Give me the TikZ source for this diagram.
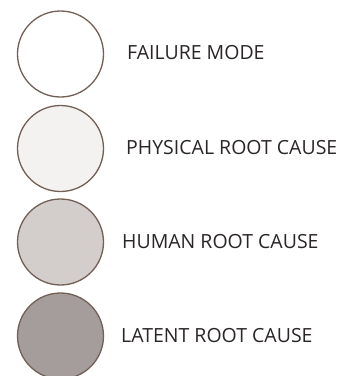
\documentclass[tikz,border=0pt]{standalone}
\usepackage{fontspec}
\setmainfont{Open Sans}
\definecolor{edge}{HTML}{735F55}
\definecolor{txt}{HTML}{2A2626}
\definecolor{fA}{HTML}{FFFFFF}
\definecolor{fB}{HTML}{F3F2F1}
\definecolor{fC}{HTML}{D3CDCB}
\definecolor{fD}{HTML}{A49D9B}
\tikzset{
  dot/.style={circle, draw=edge, line width=1.3pt, minimum size=86pt, inner sep=0pt},
  lbl/.style={anchor=west, text=txt, font=\fontsize{19.5}{21}\selectfont, inner sep=0pt}
}
\begin{document}
\begin{tikzpicture}[x=1pt,y=-1pt]
\useasboundingbox (0,0) rectangle (340,376);
\clip (0,0) rectangle (340,376);
\node[dot, fill=fA] (c1) at (60.5,54) {};
\node[dot, fill=fB] (c2) at (60.5,148.5) {};
\node[dot, fill=fC] (c3) at (60.5,242) {};
\node[dot, fill=fD] (c4) at (60.5,336) {};
\node[lbl] (t1) at (127,53) {FAILURE MODE};
\node[lbl] (t2) at (126,148) {PHYSICAL ROOT CAUSE};
\node[lbl] (t3) at (122,241.5) {HUMAN ROOT CAUSE};
\node[lbl] (t4) at (121,336) {LATENT ROOT CAUSE};
\end{tikzpicture}
\end{document}
